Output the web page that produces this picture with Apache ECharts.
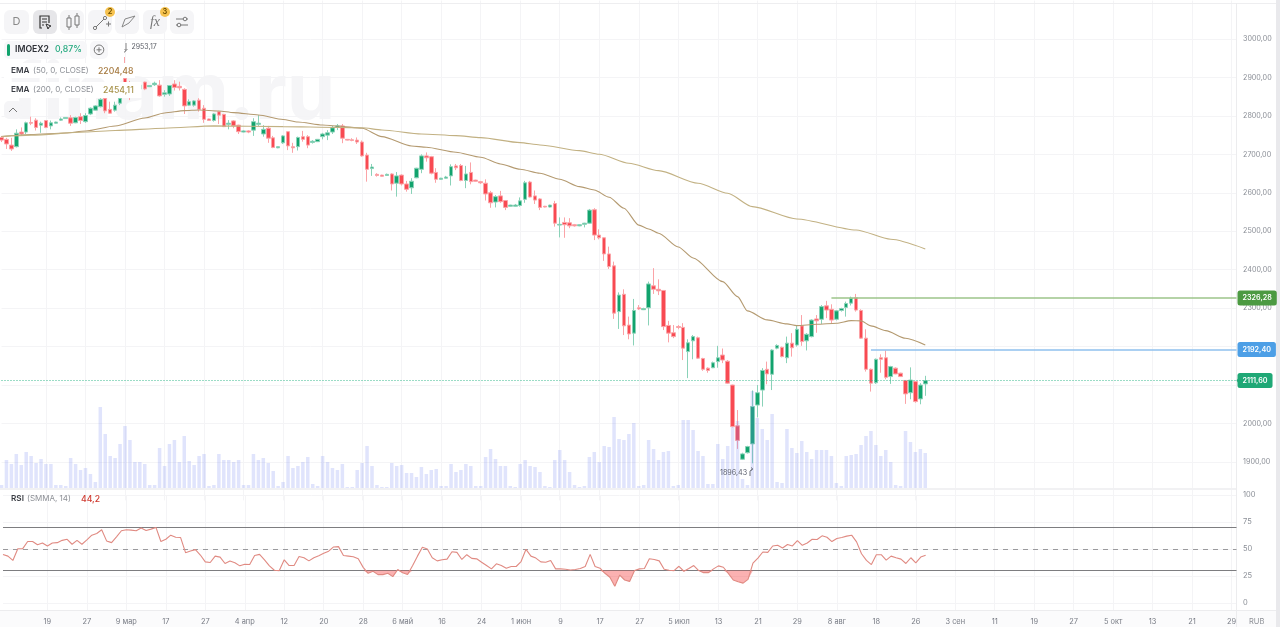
<!DOCTYPE html>
<html><head><meta charset="utf-8">
<style>html,body{margin:0;padding:0;background:#fff;overflow:hidden}#c{width:1280px;height:627px}</style>
<script src="https://cdn.jsdelivr.net/npm/echarts@6/dist/echarts.min.js"></script>
</head><body><div id="c"></div>
<script>
const tickLabels=['19','27','9 мар','17','27','4 апр','12','20','28','6 май','16','24','1 июн','9','17','27','5 июл','13','21','29','8 авг','18','26','3 сен','11','19','27','5 окт','13','21','29'];
const opens=[2744,2739,2724,2720,2758,2758,2783,2789,2776,2788,
2774,2781,2789,2793,2795,2782,2798,2785,2805,2815,
2824,2846,2817,2815,2833,2898,2880,2857,2870,2888,
2876,2881,2880,2856,2857,2883,2877,2869,2828,2828,
2841,2820,2792,2788,2811,2804,2778,2787,2776,2758,
2761,2763,2778,2753,2768,2743,2717,2730,2759,2720,
2720,2746,2746,2731,2733,2746,2750,2758,2770,2774,
2739,2738,2737,2732,2698,2663,2648,2646,2645,2649,
2625,2646,2623,2613,2639,2661,2696,2694,2653,2635,
2638,2644,2670,2671,2632,2653,2633,2629,2625,2600,
2576,2592,2580,2565,2565,2567,2583,2628,2592,2584,
2565,2563,2572,2516,2523,2522,2517,2514,2518,2521,
2556,2490,2483,2441,2410,2291,2336,2256,2235,2301,
2296,2301,2358,2349,2346,2255,2236,2252,2250,2187,
2215,2223,2169,2144,2145,2161,2178,2162,2100,1994,
1907,1924,1947,2048,2087,2141,2128,2196,2198,2171,
2209,2204,2254,2215,2226,2272,2271,2306,2297,2271,
2294,2302,2313,2327,2294,2222,2141,2106,2171,2171,
2122,2144,2131,2112,2080,2109,2064,2103];
const closes=[2737,2727,2714,2755,2753,2782,2781,2770,2781,2770,
2782,2784,2792,2796,2781,2796,2788,2801,2820,2826,
2843,2813,2807,2828,2846,2873,2862,2878,2880,2870,
2879,2885,2852,2860,2879,2874,2873,2826,2837,2839,
2817,2791,2788,2805,2802,2772,2781,2774,2759,2761,
2758,2785,2781,2765,2742,2718,2720,2748,2722,2717,
2744,2739,2724,2734,2739,2753,2756,2769,2774,2742,
2737,2736,2732,2696,2661,2667,2645,2643,2648,2623,
2644,2623,2609,2630,2664,2696,2691,2651,2635,2638,
2641,2668,2665,2632,2649,2629,2630,2626,2597,2574,
2590,2577,2562,2568,2568,2579,2626,2589,2581,2562,
2563,2568,2521,2518,2517,2514,2514,2517,2521,2555,
2490,2483,2441,2408,2287,2334,2254,2233,2294,2298,
2299,2363,2349,2345,2252,2235,2226,2250,2196,2210,
2226,2170,2141,2138,2158,2171,2165,2105,1992,1956,
1921,1940,2044,2080,2138,2129,2191,2203,2174,2209,
2197,2245,2213,2232,2269,2267,2304,2295,2269,2293,
2299,2312,2326,2295,2222,2141,2105,2167,2167,2120,
2148,2129,2122,2077,2113,2057,2100,2111.6];
const lows=[2732,2714,2709,2718,2748,2753,2776,2762,2756,2768,
2765,2780,2787,2792,2774,2781,2779,2782,2802,2814,
2822,2807,2805,2811,2828,2854,2841,2850,2866,2867,
2875,2878,2850,2850,2852,2866,2866,2805,2826,2824,
2811,2782,2787,2785,2779,2771,2765,2768,2753,2757,
2755,2748,2774,2746,2730,2716,2716,2727,2711,2704,
2710,2733,2716,2728,2732,2739,2737,2753,2763,2729,
2736,2734,2727,2694,2629,2644,2642,2642,2644,2606,
2590,2619,2603,2597,2638,2651,2681,2648,2626,2634,
2637,2619,2659,2630,2612,2622,2629,2623,2580,2561,
2562,2574,2555,2564,2564,2564,2574,2588,2571,2555,
2562,2562,2512,2484,2483,2508,2512,2513,2510,2519,
2477,2479,2423,2402,2272,2246,2230,2219,2203,2295,
2295,2255,2337,2334,2243,2211,2222,2245,2165,2118,
2167,2168,2137,2132,2144,2145,2157,2103,1990,1934,
1905,1922,1896.43,2016,2044,2102,2087,2193,2172,2157,
2174,2200,2202,2190,2224,2236,2259,2274,2261,2268,
2291,2278,2307,2291,2220,2135,2083,2103,2132,2115,
2103,2128,2121,2051,2063,2054,2050,2072];
const highs=[2748,2743,2743,2765,2770,2785,2798,2794,2785,2789,
2788,2785,2796,2797,2802,2798,2807,2807,2822,2828,
2846,2847,2837,2837,2848,2953.17,2891,2884,2884,2889,
2880,2889,2893,2867,2880,2893,2889,2872,2843,2841,
2846,2828,2793,2807,2813,2805,2789,2789,2777,2763,
2763,2794,2802,2776,2774,2748,2721,2750,2760,2730,
2746,2761,2750,2737,2740,2756,2763,2774,2779,2779,
2740,2742,2744,2736,2704,2675,2651,2647,2650,2651,
2654,2648,2631,2638,2665,2700,2705,2696,2664,2639,
2644,2674,2675,2675,2670,2679,2634,2631,2635,2605,
2594,2605,2581,2569,2571,2588,2631,2631,2606,2586,
2566,2569,2579,2536,2536,2534,2519,2518,2522,2558,
2560,2505,2484,2460,2421,2341,2349,2278,2324,2308,
2301,2369,2404,2375,2347,2267,2256,2256,2261,2219,
2230,2226,2171,2146,2161,2202,2195,2165,2101,2035,
1924,1942,2086,2100,2144,2161,2193,2206,2200,2226,
2235,2256,2282,2235,2271,2282,2308,2319,2310,2295,
2301,2317,2330,2337,2297,2245,2143,2169,2180,2190,
2150,2146,2132,2113,2146,2110,2105,2124];
const volumes=[3,28,24,34,23,36,32,25,29,24,
24,3,3,2,30,24,18,20,14,6,
81,54,32,30,44,62,48,26,26,24,
3,3,40,22,44,48,26,52,27,23,
32,34,2,3,34,28,28,26,28,3,
3,34,28,30,25,17,2,6,32,20,
22,26,31,4,2,32,26,20,18,24,
1,1,18,25,42,22,3,1,1,25,
22,23,15,15,11,21,14,18,19,2,
2,24,16,18,24,22,2,2,31,39,
29,22,22,2,1,24,28,22,21,16,
2,1,28,38,28,16,3,1,2,31,
36,26,42,41,71,49,48,54,65,2,
3,48,39,28,36,37,2,3,68,68,
58,37,32,4,4,44,29,42,61,67,
9,3,97,70,59,48,74,6,5,59,
40,35,47,36,29,38,38,38,32,5,
2,32,33,34,43,52,57,43,32,38,
26,3,2,57,46,36,39,35];
const ema50=[[0,2746.5],[6,2751.7],[13,2755.6],[17,2760.8],[23,2773.8],[29,2794.6],[33,2807.6],[37,2813.6],[40,2815.4],[44,2812.8],[47,2808.4],[52,2802.4],[57,2790.7],[60,2784.2],[65,2776.4],[68,2773.8],[73,2767.8],[77,2746],[83,2721.8],[86,2718.4],[92,2705.4],[97,2692.4],[101,2675],[105,2661.2],[109,2650.8],[113,2635.2],[117,2616],[120,2607.4],[123,2588.4],[126,2559.8],[129,2516],[131,2506],[133,2494.8],[137,2459],[140,2430.6],[146,2369],[149,2330],[151,2292.8],[155,2269.4],[159,2259],[161,2254.6],[165,2258],[169,2260.8],[172,2267.6],[174,2266.8],[176,2253.8],[179,2241.6],[183,2221.8],[187,2204.48]];
const ema200=[[0,2746],[6,2750],[17,2758],[23,2762],[33,2768],[43,2774],[57,2772],[68,2770],[73,2769],[77,2763.4],[85,2753],[92,2748.6],[97,2743.4],[105,2730.4],[109,2724.4],[117,2709.6],[121,2700.2],[127,2676.8],[133,2657.6],[141,2624.8],[147,2598.8],[152,2564],[161,2532],[173,2503.4],[180,2479.2],[187,2454.11]];
const rsi=[45,43.4,39.4,50.3,50.3,56.9,56.9,54,55.6,52.8,
55.6,55.9,58,59,54.4,58,54.4,58.4,62.8,64.4,
67.8,57.5,55.9,61.3,66.9,67.8,67.5,66.9,69.4,67.2,
68.4,70,56.9,59,62.8,60.9,60.6,46.6,48.1,49.4,
44.4,38.1,37.5,43.4,42.5,36.6,38.8,37.2,34.4,35.9,
35.6,44,45,40,34.4,30.3,30,40,34.7,34.7,
43.1,41.9,39,41.9,43.8,46,48,51.9,52.2,44,
43.4,42.8,40.9,33,27.5,29.4,26.3,26.3,27.5,24.4,
31,28,26.3,34.4,43.4,51.6,50,41.9,39,40,
40.6,47.5,46.9,40.3,44.7,41.3,40.9,37.8,34.7,31.6,
36.3,34.7,32.2,33.8,33.8,38.4,49.7,43.4,41.6,38.1,
37.8,39.4,31.6,31.6,31.3,30.6,31,31.9,33.8,45,
33.8,32.2,27.5,23.8,15.6,25.9,21.3,20,30,31.6,
31.9,40.9,40.3,39,31.3,30.3,30,34,29.4,31.9,
34.7,30,28.1,28.1,31.6,34.4,33.1,27.5,21.3,19.7,
18.4,21.9,36.9,41.6,47.2,46.9,52.8,53.4,50.9,54.1,
52.8,57.8,53.4,55.6,59,58.8,62.2,60.9,56.9,59.7,
60.6,61.9,62.8,56.6,45.6,39.4,35.6,44.7,44.7,39.7,
43.4,41.9,40.6,36.6,41.9,37.2,42.5,44.2];
const greenLevel=2326.28, blueLevel=2192.40, lastClose=2111.60;

const SLOTS=251, GREEN='#12a36d', RED='#f84a52', WICK_G='#8ad2b8', WICK_R='#fba3a7', GRID='#f4f4f6', FONT='Inter';
const categories=Array.from({length:SLOTS},(_,i)=>(i>=9&&(i-9)%8===0)?tickLabels[(i-9)/8]:'');
const candleData=opens.map((o,i)=>[o,closes[i],lows[i],highs[i]]);
const rsiClip=rsi.map(v=>Math.min(v,30));
const fmt=v=>v.toFixed(2).replace('.',',');
const isTick=(i)=>i>=9&&(i-9)%8===0;
const xBase={type:'category',data:categories,boundaryGap:false,axisLine:{show:false},axisTick:{show:false},axisLabel:{show:false},
  splitLine:{show:true,interval:isTick,lineStyle:{color:GRID,width:1}}};
const levelLine=(from,val,lineColor,tagColor,type,w)=>[{xAxis:from,yAxis:val,lineStyle:{color:lineColor,type:type,width:w},
  label:{show:true,position:'end',distance:1,formatter:fmt(val),color:'#fff',backgroundColor:tagColor,fontFamily:FONT,fontSize:7.2,fontWeight:600,padding:[4,5,4,5],borderRadius:2.5,lineHeight:7}},{xAxis:SLOTS-1,yAxis:val}];

function txt(x,y,text,o){o=o||{};return {type:'text',x:x,y:y,z:o.z==null?100:o.z,silent:true,style:{text:text,fill:o.fill||'#333',font:(o.font||'9px')+' '+(o.family||FONT),align:o.align||'left',verticalAlign:'middle'}};}
function box(x,y,w,h,fill,r,z){return {type:'rect',silent:true,z:z==null?99:z,shape:{x:x,y:y,width:w,height:h,r:r||0},style:{fill:fill}};}
function poly(points,stroke,w,z){return {type:'polyline',silent:true,z:z||101,shape:{points:points},style:{fill:'none',stroke:stroke||'#555',lineWidth:w||1}};}
function disc(cx,cy,r,fill,stroke){return {type:'circle',silent:true,z:101,shape:{cx:cx,cy:cy,r:r},style:{fill:fill,stroke:stroke||null,lineWidth:1}};}

const NAME='#3a3d44', SUB='#8d9096';
const graphics=[
  txt(11,96,'finam.ru',{z:-1,font:'700 78px',fill:'#f5f5f7'}),
  // frame
  box(0,3,1276,1,'#eeeef0',0,1), box(1236,3,1,624,'#ececee',0,1), box(1276,0,4,627,'#e9e9ec',0,1),
  box(0,488,1236,2,'#f1f1f3',0,1), box(0,610,1276,1,'#ececee',0,1), box(0,611,1276,16,'#fbfbfc',0,-1),
  txt(1249,622,'RUB',{font:'7.5px',fill:'#8d9096',z:5}),
  // toolbar
  box(4,10,25,24,'#f5f5f7',6), box(33,10,24,24,'#e6e6e9',6), box(60,10,24,24,'#f5f5f7',6), box(88,10,24,24,'#f5f5f7',6), box(115,10,24,24,'#f5f5f7',6), box(143,10,24,24,'#f5f5f7',6), box(170,10,24,24,'#f5f5f7',6),
  txt(16.5,22,'D',{font:'11px',fill:'#888',align:'center',z:101}),
  poly([[42,28],[40,28],[40,16],[49,16],[49,23]],'#333',1.2), poly([[42,19],[47,19]],'#333',1), poly([[42,22],[47,22]],'#333',1), poly([[42,25],[44,25]],'#333',1),
  poly([[46,24],[51,26],[49,27],[48,29],[46,24]],'#333',1),
  poly([[67,18],[71,18],[71,27],[67,27],[67,18]],'#777',1), poly([[69,15],[69,18]],'#777',1), poly([[69,27],[69,30]],'#777',1),
  poly([[75,16],[79,16],[79,25],[75,25],[75,16]],'#777',1), poly([[77,13],[77,16]],'#777',1), poly([[77,25],[77,28]],'#777',1),
  poly([[96,27],[104,19]],'#777',1), poly([[106,24],[111,24]],'#777',1), poly([[108.5,21.5],[108.5,26.5]],'#777',1), disc(95,28,1.6,'#fff','#777'), disc(105,18,1.6,'#fff','#777'),
  poly([[122,27],[125,19],[135,16],[129,23],[122,27]],'#888',1),
  txt(155,22,'fx',{font:'italic 14px',family:'Liberation Serif',fill:'#777',align:'center',z:101}),
  poly([[176,19],[188,19]],'#777',1), poly([[176,25],[188,25]],'#777',1), disc(185,19,1.8,'#f5f5f7','#777'), disc(179,25,1.8,'#f5f5f7','#777'),
  disc(110,12,5,'#f6c24f'), txt(110,12.2,'2',{font:'600 7.5px',fill:'#6b4e00',align:'center',z:102}),
  disc(165,12,5,'#f6c24f'), txt(165,12.2,'3',{font:'600 7.5px',fill:'#6b4e00',align:'center',z:102}),
  // ticker row
  box(4,41,83,18,'#f7f7f9',5), box(7,44,3,12,GREEN,1.5,101),
  txt(15,49.8,'IMOEX2',{font:'600 8.7px',fill:'#2f3238',z:101}), txt(55,49.8,'0,87%',{font:'500 8.7px',fill:'#21a97d',z:101}),
  box(90,41,18,18,'#f7f7f9',5), disc(99,49.8,4.8,'transparent','#777'), poly([[96.5,49.8],[101.5,49.8]],'#777',1), poly([[99,47.3],[99,52.3]],'#777',1),
  poly([[126,43],[126,50],[125,52],[124,52]],'#777',.9), poly([[124.5,49],[126,50.5],[127.5,49]],'#777',.9),
  txt(131.5,47,'2953,17',{font:'7px',fill:'#5b5e66'}),
  // indicator legend rows
  box(4,63,131,15,'#fff',0), box(4,82,137.5,16,'#fff',0),
  txt(11,71,'EMA',{font:'600 8.2px',fill:NAME,z:101}), txt(33,71,'(50, 0, CLOSE)',{font:'8px',fill:SUB,z:101}), txt(98,71,'2204,48',{font:'500 8.7px',fill:'#a5793f',z:101}),
  txt(11,90,'EMA',{font:'600 8.2px',fill:NAME,z:101}), txt(33,90,'(200, 0, CLOSE)',{font:'8px',fill:SUB,z:101}), txt(103,90,'2454,11',{font:'500 8.7px',fill:'#a7924a',z:101}),
  box(4,101,18,18,'#f5f5f7',5), poly([[9,112],[13,108],[17,112]],'#777',1),
  // RSI legend
  txt(11,499,'RSI',{font:'600 8.2px',fill:NAME,z:101}), txt(27,499,'(SMMA, 14)',{font:'8px',fill:SUB,z:101}), txt(81,499,'44,2',{font:'500 8.7px',fill:'#cf3b30',z:101}),
  // low label
  txt(720,473,'1896,43',{font:'7.2px',fill:'#5f6370',z:101}), poly([[750,476],[750,471],[752.5,469]],'#5f6370',.9), poly([[751,467.5],[752.8,469],[751,470.5]],'#5f6370',.9),
  // last price tag pointer
  {type:'polygon',silent:true,z:100,shape:{points:[[1236.5,380.6],[1240,376],[1240,385.2]]},style:{fill:'#1fa876'}}
];

const yColors=Array.from({length:14},(_,i)=>(i===0||i===13)?'transparent':GRID);
const chart=echarts.init(document.getElementById('c'),null,{renderer:'canvas'});
chart.setOption({
  animation:false,backgroundColor:'#fff',textStyle:{fontFamily:FONT},
  grid:[
    {left:1.5,width:1235,top:0.55,height:499.85,containLabel:false},
    {left:1.5,width:1235,top:388,height:100},
    {left:1.5,width:1235,top:495,height:108}
  ],
  xAxis:[
    Object.assign({},xBase,{gridIndex:0}),
    Object.assign({},xBase,{gridIndex:1,splitLine:{show:false}}),
    Object.assign({},xBase,{gridIndex:2,
      axisTick:{show:true,interval:isTick,length:7,lineStyle:{color:GRID}},
      axisLabel:{show:true,interval:0,margin:15,color:'#777b84',fontSize:7.4,fontFamily:FONT}})
  ],
  yAxis:[
    {gridIndex:0,type:'value',position:'right',min:1800,max:3100,interval:100,axisLine:{show:false},axisTick:{show:false},
      splitLine:{lineStyle:{color:yColors,width:1}},
      axisLabel:{margin:6.5,align:'left',color:'#8a8e96',fontSize:7.2,fontFamily:FONT,formatter:v=>(v===1800||v===3100)?'':fmt(v)}},
    {gridIndex:1,type:'value',min:0,max:100,show:false,splitLine:{show:false}},
    {gridIndex:2,type:'value',position:'right',min:0,max:100,interval:25,axisLine:{show:false},axisTick:{show:false},
      splitLine:{lineStyle:{color:GRID,width:1}},
      axisLabel:{margin:6.5,align:'left',color:'#8a8e96',fontSize:7.5,fontFamily:FONT}}
  ],
  series:[
    {name:'IMOEX2',type:'candlestick',xAxisIndex:0,yAxisIndex:0,z:2,barWidth:4,data:candleData,
      itemStyle:{color:GREEN,color0:RED,borderColor:WICK_G,borderColor0:WICK_R,borderColorDoji:WICK_G,borderWidth:1},
      markLine:{silent:true,symbol:'none',animation:false,z:6,
        data:[levelLine(168,greenLevel,'#9dc48a','#4c9a42','solid',1.6),
              levelLine(176,blueLevel,'#8fc0ee','#4d9fe6','solid',1.6),
              levelLine(0,lastClose,'#36b98c','#1fa876',[1,2],1)]}},
    {name:'Volume',type:'bar',xAxisIndex:1,yAxisIndex:1,z:3,barWidth:3.5,data:volumes,itemStyle:{color:'rgba(112,132,240,0.22)'},silent:true},
    {name:'EMA 50',type:'line',xAxisIndex:0,yAxisIndex:0,z:4,data:ema50,symbol:'none',smooth:0.25,smoothMonotone:'x',lineStyle:{color:'#b49a70',width:1.1},silent:true},
    {name:'EMA 200',type:'line',xAxisIndex:0,yAxisIndex:0,z:4,data:ema200,symbol:'none',smooth:0.25,smoothMonotone:'x',lineStyle:{color:'#c2b183',width:1.1},silent:true},
    {name:'RSI zone',type:'line',xAxisIndex:2,yAxisIndex:2,z:3,data:rsiClip,symbol:'none',lineStyle:{width:0},areaStyle:{origin:30,color:'rgba(246,76,76,0.62)'},silent:true},
    {name:'RSI',type:'line',xAxisIndex:2,yAxisIndex:2,z:4,data:rsi,symbol:'none',lineStyle:{color:'#e08a82',width:1.1},silent:true,
      markLine:{silent:true,symbol:'none',animation:false,label:{show:false},z:3,data:[
        {yAxis:70,lineStyle:{color:'#7d7d80',type:'solid',width:1.2}},
        {yAxis:50,lineStyle:{color:'#9a9a9d',type:[5,5],width:1.2}},
        {yAxis:30,lineStyle:{color:'#7d7d80',type:'solid',width:1.2}}]}}
  ],
  graphic:{elements:graphics}
});
</script></body></html>
